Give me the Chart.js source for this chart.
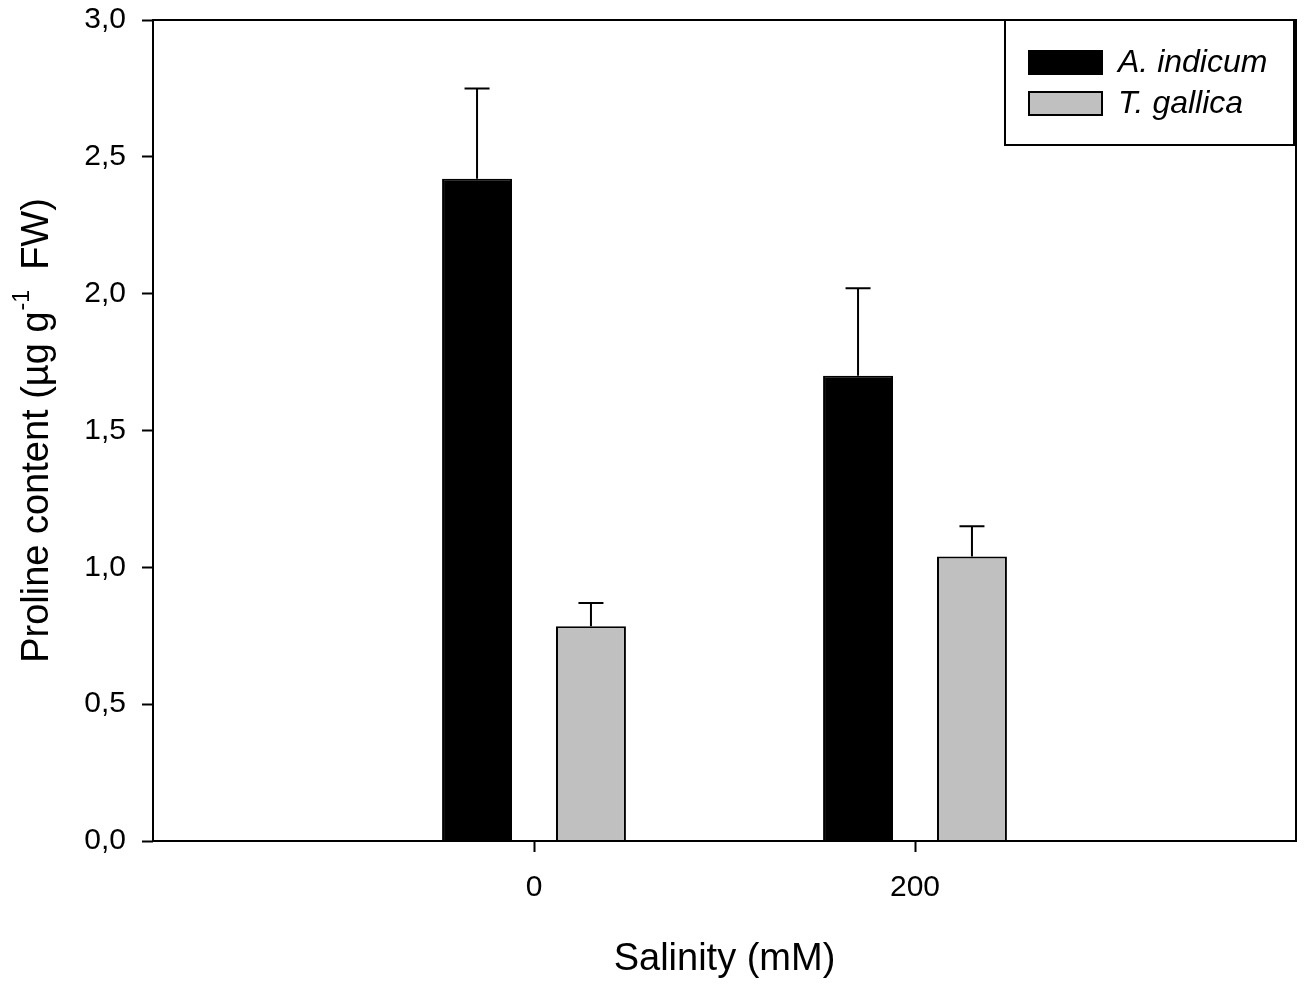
<!DOCTYPE html>
<html lang="en">
<head>
<meta charset="UTF-8">
<title>Proline content</title>
<script src="https://cdn.jsdelivr.net/npm/chart.js"></script>
<style>
        body {
            margin: 0;
            background: #fff;
        }
        #wrap {
            width: 1306px;
            height: 984px;
        }
</style>
</head>
<body>
<div id="wrap"><canvas id="prolineChart"></canvas></div>
<script>
        // values
        const salinity = ['0', '200'];
        const aIndicum = [2.42, 1.70];
        const aIndicumErr = [0.33, 0.32];
        const tGallica = [0.785, 1.04];
        const tGallicaErr = [0.085, 0.11];
        const yTicks = [0, 0.5, 1.0, 1.5, 2.0, 2.5, 3.0];

        const FONT = '"Liberation Sans", Arial, sans-serif';

        // empty slots at both ends so the two groups sit at 1/3 and 2/3
        const labels = ['', ...salinity, ''];
        const pad = arr => [null, ...arr, null];

        const errs = [aIndicumErr, tGallicaErr];

        const drawExtras = {
            id: 'drawExtras',
            afterDatasetsDraw(chart) {
                const c = chart.ctx;
                const area = chart.chartArea;
                const yScale = chart.scales.y;

                c.save();
                c.strokeStyle = '#000';
                c.lineWidth = 2;

                // upper error bars
                chart.data.datasets.forEach((ds, di) => {
                    const meta = chart.getDatasetMeta(di);
                    meta.data.forEach((bar, i) => {
                        const v = ds.data[i];
                        if (v === null) return;
                        const e = errs[di][i - 1];
                        const yTop = yScale.getPixelForValue(v + e);
                        c.beginPath();
                        c.moveTo(bar.x, bar.y);
                        c.lineTo(bar.x, yTop);
                        c.moveTo(bar.x - 12.5, yTop);
                        c.lineTo(bar.x + 12.5, yTop);
                        c.stroke();
                    });
                });

                // frame round the plot
                c.strokeRect(area.left, area.top, area.right - area.left, area.bottom - area.top);

                // legend box
                const lx = area.right - 291, ly = area.top;
                c.fillStyle = '#fff';
                c.fillRect(lx, ly, 289, 125);
                c.strokeRect(lx, ly, 289, 125);
                c.font = 'italic 32px ' + FONT;
                c.textBaseline = 'middle';
                chart.data.datasets.forEach((ds, di) => {
                    const sy = ly + 31 + di * 41;
                    c.fillStyle = ds.backgroundColor;
                    c.fillRect(lx + 24, sy, 73, 23);
                    c.strokeRect(lx + 24, sy, 73, 23);
                    c.fillStyle = '#000';
                    c.fillText(ds.label, lx + 113, sy + 12);
                });

                // axis titles
                c.fillStyle = '#000';
                c.font = '38px ' + FONT;
                c.textAlign = 'center';
                c.textBaseline = 'middle';
                c.fillText('Salinity (mM)', (area.left + area.right) / 2, 960);

                const main = 'Proline content (µg g';
                const sup = '-1';
                const tail = '  FW)';
                c.font = '38px ' + FONT;
                const w1 = c.measureText(main).width;
                const w3 = c.measureText(tail).width;
                c.font = '23px ' + FONT;
                const w2 = c.measureText(sup).width;
                const total = w1 + w2 + w3;
                c.translate(38, (area.top + area.bottom) / 2);
                c.rotate(-Math.PI / 2);
                c.textAlign = 'left';
                let x0 = -total / 2;
                c.font = '38px ' + FONT;
                c.fillText(main, x0, 0);
                c.font = '23px ' + FONT;
                c.fillText(sup, x0 + w1 + 1, -15);
                c.font = '38px ' + FONT;
                c.fillText(tail, x0 + w1 + w2, 0);
                c.restore();
            }
        };

        const ctx = document.getElementById('prolineChart').getContext('2d');
        new Chart(ctx, {
            type: 'bar',
            data: {
                labels: labels,
                datasets: [{
                    label: 'A. indicum',
                    data: pad(aIndicum),
                    backgroundColor: '#000000',
                    borderColor: '#000000',
                    borderWidth: 2
                }, {
                    label: 'T. gallica',
                    data: pad(tGallica),
                    backgroundColor: '#c0c0c0',
                    borderColor: '#000000',
                    borderWidth: 2
                }]
            },
            options: {
                responsive: true,
                maintainAspectRatio: false,
                animation: false,
                categoryPercentage: 0.598,
                barPercentage: 0.614,
                layout: { padding: { top: 20, right: 10, left: 0, bottom: 0 } },
                plugins: {
                    legend: { display: false },
                    tooltip: { enabled: false }
                },
                scales: {
                    x: {
                        offset: false,
                        grid: {
                            offset: false,
                            drawOnChartArea: false,
                            tickLength: 11,
                            tickWidth: 2,
                            tickColor: c => (c.index === 0 || c.index === labels.length - 1) ? 'rgba(0,0,0,0)' : '#000'
                        },
                        border: { display: false },
                        ticks: {
                            color: '#000',
                            padding: 18,
                            maxRotation: 0,
                            autoSkip: false,
                            font: { family: FONT, size: 30 }
                        },
                        afterFit: s => {
                            s.height = 143;
                            s.paddingLeft = 0;
                            s.paddingRight = 0;
                        }
                    },
                    y: {
                        min: 0,
                        max: 3,
                        afterBuildTicks: s => { s.ticks = yTicks.map(v => ({ value: v })); },
                        grid: {
                            drawOnChartArea: false,
                            tickLength: 11,
                            tickWidth: 2,
                            tickColor: '#000'
                        },
                        border: { display: false },
                        ticks: {
                            color: '#000',
                            padding: 16,
                            font: { family: FONT, size: 30 },
                            callback: v => v.toFixed(1).replace('.', ',')
                        },
                        afterFit: s => {
                            s.width = 153;
                            s.paddingTop = 0;
                            s.paddingBottom = 0;
                        }
                    }
                }
            },
            plugins: [drawExtras]
        });
</script>
</body>
</html>
